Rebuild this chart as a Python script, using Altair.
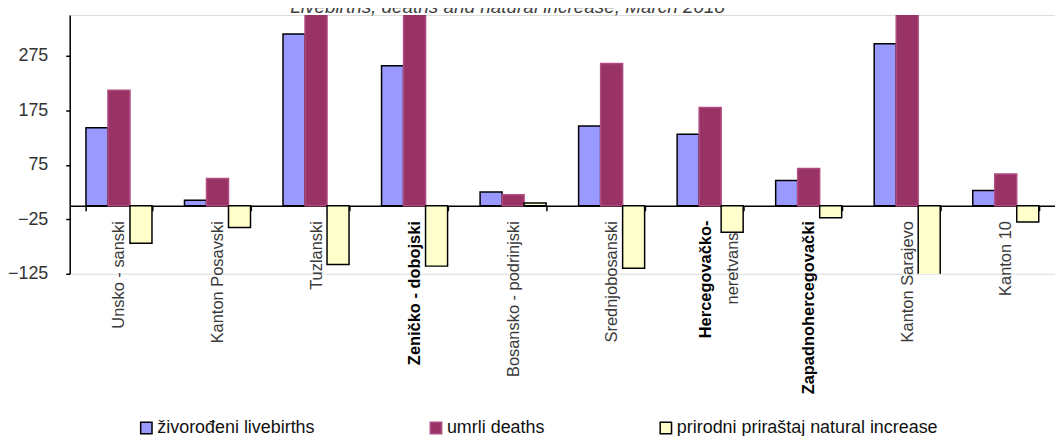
import altair as alt
import pandas as pd

categories = ["Unsko - sanski", "Kanton Posavski", "Tuzlanski", "Zeničko - dobojski",
              "Bosansko - podrinjski", "Srednjobosanski", "Hercegovačko-neretvanski",
              "Zapadnohercegovački", "Kanton Sarajevo", "Kanton 10"]
livebirths = [143, 10, 315, 257, 25, 146, 131, 46, 297, 28]
deaths = [212, 50, 423, 368, 20, 261, 180, 68, 430, 58]
natural = [-69, -40, -108, -111, 5, -115, -49, -22, -133, -30]
series = ["živorođeni livebirths", "umrli deaths", "prirodni priraštaj natural increase"]
y_ticks = [-125, -25, 75, 175, 275]
herc_lines = ["Hercegovačko-", "neretvanski"]

rows = []
for i, c in enumerate(categories):
    for s, vals in zip(series, [livebirths, deaths, natural]):
        rows.append({"region": c, "series": s, "value": vals[i]})
df = pd.DataFrame(rows)

REG = "Liberation Sans, Arial, sans-serif"

xscale = alt.Scale(domain=categories, paddingInner=0.33, paddingOuter=0.165)
yscale = alt.Scale(domain=[-125, 350], nice=False, zero=False)

bold_test = "datum.value == 'Zeničko - dobojski' || datum.value == 'Zapadnohercegovački'"

x_axis = alt.Axis(
    title=None, orient="bottom", offset=-68.4, tickBand="extent", tickSize=5,
    tickColor="black", tickWidth=1.5, domainColor="black", domainWidth=1.5,
    labelAngle=270, labelAlign="right", labelBaseline="middle", labelPadding=10,
    labelFont=REG, labelFontSize=16.5, labelLimit=400, labelOverlap=False, labelBound=False,
    labelColor={"condition": {"test": bold_test, "value": "#000000"}, "value": "#3a3a3a"},
    labelFontWeight={"condition": {"test": bold_test, "value": "bold"}, "value": "normal"},
    labelExpr="datum.value == 'Hercegovačko-neretvanski' ? '' : datum.label",
)
y_axis = alt.Axis(
    values=y_ticks, title=None, grid=False, domainColor="black", domainWidth=1.5,
    tickColor="black", tickSize=4, tickWidth=1.5, labelFont=REG, labelFontSize=18,
    labelColor="#333333", labelPadding=18,
)
legend = alt.Legend(
    title=None, orient="none", legendX=68, legendY=406, direction="horizontal",
    columnPadding=112, symbolType="square", symbolSize=130, symbolStrokeWidth=1.5,
    labelFont=REG, labelFontSize=18, labelColor="#111111", labelOffset=2, labelLimit=500,
)

bars = alt.Chart(df).mark_bar(clip=True, strokeWidth=1.5).encode(
    x=alt.X("region:N", scale=xscale, axis=x_axis, sort=categories),
    xOffset=alt.XOffset("series:N", sort=series,
                        scale=alt.Scale(domain=series, paddingInner=0, paddingOuter=0)),
    y=alt.Y("value:Q", scale=yscale, axis=y_axis),
    color=alt.Color("series:N", sort=series,
                    scale=alt.Scale(domain=series, range=["#9999FF", "#993366", "#FFFFCC"]),
                    legend=legend),
    stroke=alt.Stroke("series:N", sort=series,
                      scale=alt.Scale(domain=series, range=["#000000", "#b04c80", "#000000"]),
                      legend=legend),
)

herc_df = pd.DataFrame({"region": ["Hercegovačko-neretvanski"] * 2, "line": herc_lines})

herc_bold = alt.Chart(herc_df).transform_filter(alt.datum.line == herc_lines[0]).mark_text(
    angle=270, align="right", baseline="middle", dx=-15, dy=-4,
    font=REG, fontSize=16.5, fontWeight="bold", color="#000000",
).encode(x=alt.X("region:N", scale=xscale, sort=categories), y=alt.datum(0), text="line:N")

herc_reg = alt.Chart(herc_df).transform_filter(alt.datum.line == herc_lines[1]).mark_text(
    angle=270, align="right", baseline="middle", dx=-15, dy=23,
    font=REG, fontSize=16.5, fontWeight="normal", color="#3a3a3a",
).encode(x=alt.X("region:N", scale=xscale, sort=categories), y=alt.datum(0), text="line:N")

chart = alt.layer(herc_bold, herc_reg, bars).properties(
    width=990, height=260,
    padding={"left": 62, "top": 6, "right": 0, "bottom": 162},
    autosize=alt.AutoSizeParams(type="none"),
    title=alt.Title(
        "Livebirths, deaths and natural increase, March 2018", anchor="middle", frame="group",
        dx=-55, dy=17, offset=0, baseline="alphabetic", font=REG, fontSize=19,
        fontStyle="italic", fontWeight="normal", color="#404040",
    ),
).configure_view(stroke=None).configure(background="white")

chart.save("out.html", embed_options={"renderer": "svg", "actions": False})
